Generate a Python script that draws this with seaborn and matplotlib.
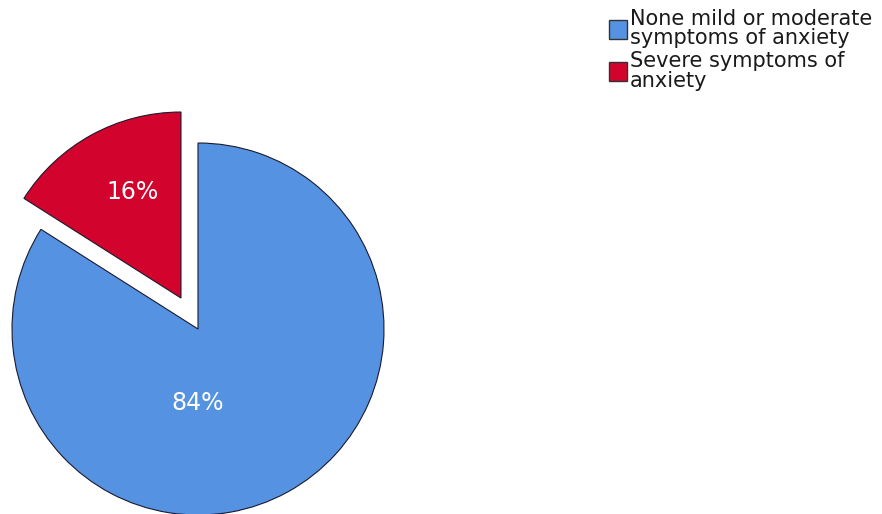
import matplotlib
matplotlib.use("Agg")
import matplotlib.pyplot as plt
import seaborn as sns
from matplotlib.patches import Patch

categorias = ['Severe symptoms of\nanxiety', 'None mild or moderate\nsymptoms of anxiety']
percentuais = [16, 84]
cores = ['#D2042D', '#5592E2']
explodir = [0.19, 0]

sns.set_theme(style="white")
plt.rcParams['font.family'] = ['DejaVu Sans']

fig = plt.figure(figsize=(8.82, 5.14), dpi=100)
# caixa quadrada em pixels: circulo azul centrado em (198, 329), raio 186
ax = fig.add_axes([12 / 882, -1 / 514, 372 / 882, 372 / 514])

fatias, textos, pcts = ax.pie(percentuais, colors=cores, explode=explodir, startangle=90,
                              counterclock=True, radius=1, autopct='%d%%', pctdistance=0.64,
                              wedgeprops={'edgecolor': '#1a1a2e', 'linewidth': 0.8},
                              textprops={'color': 'white', 'fontsize': 17})
ax.set_xlim(-1, 1)
ax.set_ylim(-1, 1)
ax.axis('off')
for f in fatias:
    f.set_clip_on(False)
# ajuste dos rotulos como no original
px, py = pcts[0].get_position()
pcts[0].set_position((px + 0.05, py + 0.01))
pcts[1].set_position((0, -0.4))

handles = [Patch(facecolor=cores[1], edgecolor='#333333'), Patch(facecolor=cores[0], edgecolor='#333333')]
leg = fig.legend(handles, [categorias[1], categorias[0]], loc='upper left',
                 bbox_to_anchor=(609 / 882, 1 - 9 / 514), frameon=False, fontsize=15,
                 handlelength=0.85, handleheight=1.0, handletextpad=0.15, labelspacing=0.15,
                 borderpad=0, borderaxespad=0)
for t in leg.get_texts():
    t.set_linespacing(0.95)
    t.set_color('#1a1a1a')

fig.savefig('out.png', dpi=100)
